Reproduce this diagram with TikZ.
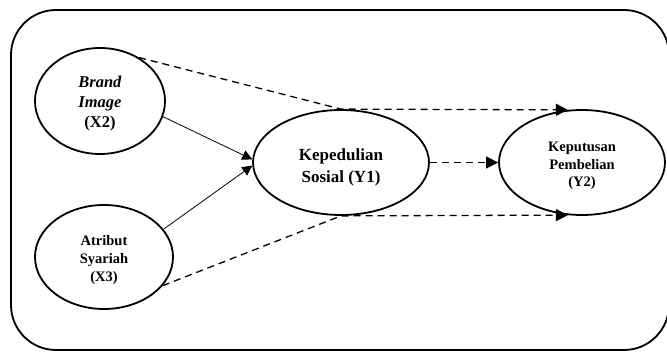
\documentclass[tikz,border=0pt]{standalone}
\usepackage{fontspec}
\setmainfont{Liberation Serif}
\usetikzlibrary{arrows.meta,shapes.geometric}
\begin{document}
\begin{tikzpicture}[x=1pt,y=1pt,
  latent/.style={ellipse,draw,line width=1.8pt,inner sep=0pt},
  lbl/.style={align=center,font=\bfseries,inner sep=0pt},
  solidarrow/.style={line width=0.8pt,-{Triangle[length=10pt,width=10pt]}},
  dasharrow/.style={line width=1.3pt,dash pattern=on 7pt off 5pt,-{Triangle[length=12pt,width=12pt]}}]
\useasboundingbox (0,0) rectangle (667,352);
\draw[line width=1.8pt,rounded corners=45pt] (11,342) rectangle (669,2);
\node[latent,minimum width=130pt,minimum height=106pt] (X2) at (100,251) {};
\node[latent,minimum width=138pt,minimum height=104pt] (X3) at (104,95) {};
\node[latent,minimum width=176pt,minimum height=105pt] (Y1) at (341,189.5) {};
\node[latent,minimum width=166pt,minimum height=105pt] (Y2) at (582,189.5) {};
\node[lbl,font=\bfseries\fontsize{16.5}{20}\selectfont] (X2t) at (100,248) {\textit{Brand}\\\textit{Image}\\(X2)};
\node[lbl,font=\bfseries\fontsize{14.5}{18}\selectfont] (X3t) at (104,92) {Atribut\\Syariah\\(X3)};
\node[lbl,font=\bfseries\fontsize{17}{22}\selectfont] (Y1t) at (341,185) {Kepedulian\\Sosial (Y1)};
\node[lbl,font=\bfseries\fontsize{14.5}{17.5}\selectfont] (Y2t) at (582,186) {Keputusan\\Pembelian\\(Y2)};
\draw[solidarrow] (X2.-14) -- (Y1.178.3);
\draw[solidarrow] (X3.25) -- (Y1.182.5);
\draw[dasharrow] (X2.48) -- (Y1.north) -- (Y2.105);
\draw[dasharrow] (X3.-26) -- (Y1.south) -- (Y2.255);
\draw[dasharrow] (Y1.east) -- (Y2.west);
\end{tikzpicture}
\end{document}
